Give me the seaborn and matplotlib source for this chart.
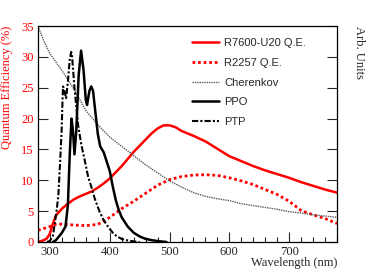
import numpy as np
import pandas as pd
import matplotlib
matplotlib.use("Agg")
import matplotlib.pyplot as plt
import seaborn as sns
from matplotlib.ticker import MultipleLocator

# R7600-U20 quantum efficiency (%)
r7600_wl = [280, 290, 295, 300, 305, 310, 320, 330, 340, 350, 360, 370, 380, 390, 400,
            420, 440, 460, 470, 480, 490, 500, 510, 520, 540, 560, 580, 600, 620, 640,
            660, 680, 700, 720, 740, 760, 780]
r7600_qe = [0.0, 0.3, 0.6, 1.4, 3.0, 4.3, 5.4, 6.2, 6.9, 7.4, 7.8, 8.2, 8.8, 9.5, 10.3,
            12.3, 14.6, 16.6, 17.6, 18.4, 18.9, 18.9, 18.6, 18.0, 17.2, 16.3, 15.1, 13.9, 13.1, 12.3,
            11.6, 11.0, 10.4, 9.7, 9.1, 8.5, 8.0]

# R2257 quantum efficiency (%)
r2257_wl = [280, 290, 300, 310, 320, 340, 360, 380, 390, 400, 420, 440, 460, 480, 500,
            520, 540, 560, 580, 600, 620, 640, 660, 680, 700, 720, 740, 760, 780]
r2257_qe = [1.9, 2.2, 2.5, 2.85, 2.9, 2.75, 2.65, 2.85, 3.4, 4.0, 5.4, 6.6, 7.9, 9.2, 10.1,
            10.6, 10.85, 10.9, 10.8, 10.4, 9.9, 9.3, 8.5, 7.7, 6.6, 5.1, 4.4, 3.8, 3.0]

# Cherenkov spectrum (arb. units)
cher_wl = [280, 290, 300, 320, 340, 360, 380, 400, 420, 440, 460, 480, 500, 520, 540,
           560, 580, 600, 620, 640, 660, 680, 700, 720, 740, 760, 780]
cher_val = [35.0, 32.5, 30.5, 27.8, 24.8, 21.3, 19.0, 17.0, 15.5, 14.0, 12.5, 11.2, 9.9, 8.9, 8.0,
            7.4, 7.0, 6.7, 6.2, 5.9, 5.6, 5.3, 4.9, 4.7, 4.4, 4.2, 4.0]

# PPO emission (arb. units)
ppo_wl = [305, 310, 320, 326, 330, 333, 336, 338.5, 341, 344, 348, 352, 356, 360, 362,
          366, 369, 372, 376, 380, 384, 390, 395, 400, 405, 410, 415, 420, 430, 440,
          450, 460, 470, 480, 490, 495]
ppo_val = [0.0, 0.3, 1.5, 2.5, 6.0, 14.0, 20.0, 18.0, 14.2, 18.0, 27.0, 31.0, 28.0, 23.0, 22.2,
           24.5, 25.2, 24.5, 21.0, 17.5, 15.5, 14.5, 13.0, 11.5, 9.0, 6.8, 5.2, 4.0, 2.5, 1.5,
           0.9, 0.5, 0.3, 0.15, 0.05, 0.0]

# PTP emission (arb. units)
ptp_wl = [295, 300, 305, 308, 311, 314, 317, 319.5, 321, 322, 324, 327, 330, 333, 335.5,
          337, 339, 341, 344, 347, 352, 358, 364, 369, 375, 383, 390, 397, 405, 412,
          420, 430, 440, 450]
ptp_val = [0.0, 0.2, 1.0, 3.0, 5.0, 7.5, 13.0, 18.0, 23.0, 25.2, 24.5, 23.3, 26.0, 29.5, 30.8,
           30.0, 27.5, 25.0, 22.0, 19.0, 16.0, 13.3, 10.5, 9.0, 7.0, 4.9, 3.5, 2.5, 1.5, 0.9,
           0.5, 0.25, 0.1, 0.0]

sns.set_style("ticks")
plt.rcParams['font.family'] = ['Liberation Serif', 'DejaVu Serif']

fig = plt.figure(figsize=(3.74, 2.69), dpi=100)
ax = fig.add_axes([0.1016, 0.1004, 0.7995, 0.8029])

sns.lineplot(x=r7600_wl, y=r7600_qe, ax=ax, color='red', lw=1.8, label='R7600-U20 Q.E.')
sns.lineplot(x=r2257_wl, y=r2257_qe, ax=ax, color='red', lw=2.0, ls=(0, (1, 1)), label='R2257 Q.E.')
sns.lineplot(x=cher_wl, y=cher_val, ax=ax, color='#5a5a5a', lw=1.0, ls=(0, (1, 0.7)), label='Cherenkov')
sns.lineplot(x=ppo_wl, y=ppo_val, ax=ax, color='black', lw=1.8, label='PPO')
sns.lineplot(x=ptp_wl, y=ptp_val, ax=ax, color='black', lw=1.5, ls=(0, (3, 1, 1, 1)), label='PTP')

ax.set_xlim(280, 780)
ax.set_ylim(0, 35)
ax.xaxis.set_major_locator(MultipleLocator(100))
ax.xaxis.set_minor_locator(MultipleLocator(20))
ax.yaxis.set_major_locator(MultipleLocator(5))
ax.tick_params(axis='x', which='major', direction='in', length=7, width=0.8, labelsize=9, pad=3)
ax.tick_params(axis='x', which='minor', direction='in', length=3.5, width=0.8)
ax.tick_params(axis='y', which='major', direction='in', length=7, width=0.8, labelsize=9,
               labelcolor='red', right=True, pad=3)
for lab in ax.get_xticklabels() + ax.get_yticklabels():
    lab.set_fontfamily('Liberation Serif')
for s in ax.spines.values():
    s.set_linewidth(0.9)
    s.set_color('black')

ax.set_ylabel('Quantum Efficiency (%)', color='red', fontsize=9, loc='top')
ax.yaxis.set_label_coords(-0.085, 1.0)
ax.set_xlabel('Wavelength (nm)', fontsize=9, loc='right')
ax.xaxis.set_label_coords(1.0, -0.07)
ax.text(1.075, 1.0, 'Arb. Units', transform=ax.transAxes, rotation=270,
        ha='center', va='top', fontsize=9)

leg = ax.legend(loc='upper left', bbox_to_anchor=(0.5, 0.965), frameon=False,
                prop={'family': 'Liberation Sans', 'size': 8},
                handlelength=2.4, handletextpad=0.5, labelspacing=0.88, borderaxespad=0)

fig.savefig('out.png', dpi=100)
